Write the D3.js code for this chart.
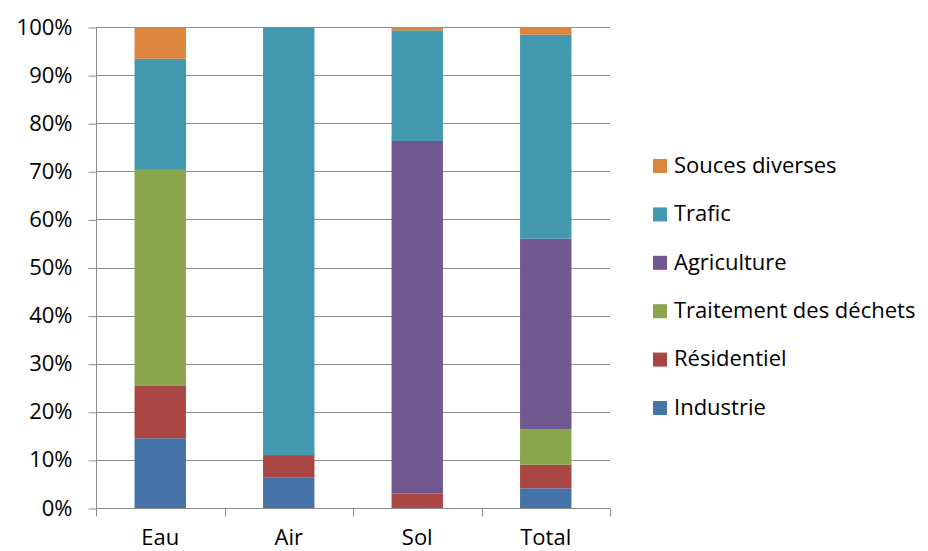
<!DOCTYPE html>
<html>
<head>
<meta charset="utf-8">
<script src="https://cdn.jsdelivr.net/npm/d3@7"></script>
<style>
  body { margin: 0; background: #fff; }
  svg { display: block; }
  text { font-family: "Open Sans", "Liberation Sans", sans-serif; fill: #000; }
</style>
</head>
<body>
<div id="chart"></div>
<script>
// Data: share (%) of each source per compartment
var categories = ['Eau', 'Air', 'Sol', 'Total']
var series = ['Industrie', 'Résidentiel', 'Traitement des déchets', 'Agriculture', 'Trafic', 'Souces diverses']
var industrie   = [14.5, 6.3, 0, 4.1]
var residentiel = [11.0, 4.7, 3.0, 4.9]
var traitement  = [44.8, 0, 0, 7.4]
var agriculture = [0, 0, 73.3, 39.6]
var trafic      = [23.1, 89.0, 23.0, 42.4]
var souces      = [6.6, 0, 0.7, 1.6]
var yTicks = [0, 10, 20, 30, 40, 50, 60, 70, 80, 90, 100]

var values = [industrie, residentiel, traitement, agriculture, trafic, souces]

var colorize = function(name){
  if (name=='Industrie') return '#4572A7'
  if (name=='Résidentiel') return '#AA4643'
  if (name=='Traitement des déchets') return '#89A54E'
  if (name=='Agriculture') return '#71588F'
  if (name=='Trafic') return '#4198AF'
  if (name=='Souces diverses') return '#DB843D'
  return '#ff699b'
}

var width = 928, height = 551
var margin = {top: 27, left: 96, right: 318, bottom: 43}
var w = width - margin.left - margin.right
var h = height - margin.top - margin.bottom

var rows = categories.map(function(c, i){
  var r = {category: c}
  series.forEach(function(s, j){ r[s] = values[j][i] })
  return r
})

var x = d3.scaleBand()
  .domain(categories)
  .range([0, w])
  .paddingInner(0.6)
  .paddingOuter(0.3)

var y = d3.scaleLinear()
  .domain([0, 100])
  .range([h, 0])

var svg = d3.select('#chart').append('svg')
  .attr('width', width)
  .attr('height', height)

var g = svg.append('g')
  .attr('transform', 'translate(' + margin.left + ',' + margin.top + ')')

// Gridlines
g.append('g')
  .selectAll('line')
  .data(yTicks)
  .enter().append('line')
    .attr('x1', 0)
    .attr('x2', w)
    .attr('y1', function(d){ return Math.round(y(d)) + 0.5 })
    .attr('y2', function(d){ return Math.round(y(d)) + 0.5 })
    .style('stroke', '#8c8c8c')
    .style('stroke-width', 1)

// Stacked bars
var stack = d3.stack().keys(series)

var layer = g.selectAll('.layer')
  .data(stack(rows))
  .enter().append('g')
    .attr('class', 'layer')
    .style('fill', function(d){ return colorize(d.key) })

layer.selectAll('rect')
  .data(function(d){ return d })
  .enter().append('rect')
    .attr('x', function(d){ return x(d.data.category) })
    .attr('width', x.bandwidth())
    .attr('y', function(d){ return y(d[1]) })
    .attr('height', function(d){ return y(d[0]) - y(d[1]) })

// Y axis
var yAxis = d3.axisLeft(y)
  .tickValues(yTicks)
  .tickSize(8)
  .tickPadding(10)
  .tickFormat(function(d){ return d + '%' })

var ya = g.append('g')
  .attr('class', 'axis axis--y')
  .attr('transform', 'translate(0.5,0)')
  .call(yAxis)
ya.selectAll('path, line').style('stroke', '#8c8c8c')
ya.select('.domain').attr('d', 'M0,' + (h + 0.5) + 'V0')
ya.selectAll('.tick line').attr('transform', 'translate(0,0.5)')
ya.selectAll('text')
  .style('font-size', '22px')
  .style('font-family', '"Open Sans", sans-serif')
  .style('fill', '#000')
  .attr('x', -24)

// X axis with ticks at band boundaries
var xa = g.append('g')
  .attr('class', 'axis axis--x')
  .attr('transform', 'translate(0,' + (Math.round(h) + 0.5) + ')')

xa.append('line')
  .attr('x1', 0).attr('x2', w)
  .style('stroke', '#8c8c8c')

xa.selectAll('.sep')
  .data(d3.range(categories.length + 1))
  .enter().append('line')
    .attr('class', 'sep')
    .attr('x1', function(i){ return Math.round(i * w / categories.length) + 0.5 })
    .attr('x2', function(i){ return Math.round(i * w / categories.length) + 0.5 })
    .attr('y1', 0)
    .attr('y2', 8)
    .style('stroke', '#8c8c8c')

xa.selectAll('.cat')
  .data(categories)
  .enter().append('text')
    .attr('class', 'cat')
    .attr('x', function(d){ return x(d) + x.bandwidth() / 2 })
    .attr('y', 36)
    .style('font-size', '22px')
    .style('text-anchor', 'middle')
    .text(function(d){ return d })

// Legend (top entry = last series)
var legend = svg.append('g')
  .attr('transform', 'translate(653,165)')

var item = legend.selectAll('.item')
  .data(series.slice().reverse())
  .enter().append('g')
    .attr('class', 'item')
    .attr('transform', function(d, i){ return 'translate(0,' + (i * 48.4) + ')' })

item.append('rect')
  .attr('x', 0)
  .attr('y', -6)
  .attr('width', 14)
  .attr('height', 14)
  .style('fill', function(d){ return colorize(d) })

item.append('text')
  .attr('x', 21)
  .attr('y', 0)
  .attr('dy', '0.35em')
  .style('font-size', '22px')
  .text(function(d){ return d })
</script>
</body>
</html>
